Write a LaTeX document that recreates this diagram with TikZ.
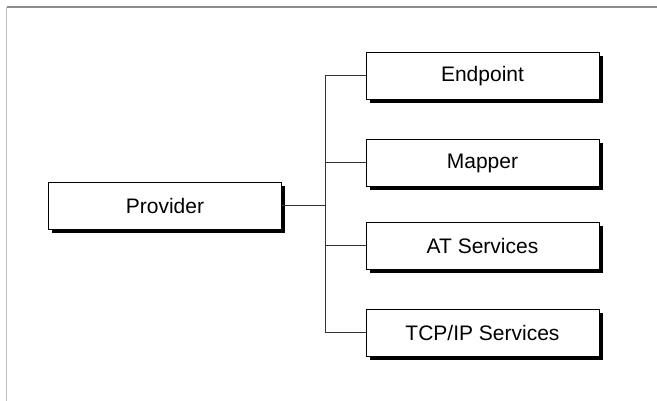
\documentclass[tikz,border=0pt]{standalone}
\usepackage{fontspec}
\setmainfont{Liberation Sans}
\usetikzlibrary{shadows}
\tikzstyle{block}=[rectangle,draw=black,fill=white,line width=1pt,inner sep=0mm,minimum width=233pt,minimum height=47pt,font=\fontsize{21}{25}\selectfont,drop shadow={shadow xshift=3.5pt,shadow yshift=-3.5pt,opacity=1,fill=black}]
\tikzstyle{link}=[line width=1pt,draw=black!80]
\begin{document}
\begin{tikzpicture}[x=1pt,y=-1pt]
      \useasboundingbox (0,0) rectangle (657,401);
      \fill[white] (0,0) rectangle (657,401);
      \draw[black!45,line width=1.5pt] (6.5,7) -- (657,7);
      \draw[black!25,line width=1.5pt] (6.5,7) -- (6.5,401);
      \node[block] at (165,206) (prov) {Provider};
      \node[block] at (482.5,76) (endp) {Endpoint};
      \node[block] at (482.5,163) (mapr) {Mapper};
      \node[block] at (482.5,246) (ats) {AT Services};
      \node[block] at (482.5,333) (tcp) {TCP/IP Services};
      \coordinate (jn) at (325,206);
      \draw[link] (prov) -- (jn);
      \draw[link] (endp) -| (jn);
      \draw[link] (mapr) -| (jn);
      \draw[link] (ats) -| (jn);
      \draw[link] (tcp) -| (jn);
    \end{tikzpicture}
\end{document}
